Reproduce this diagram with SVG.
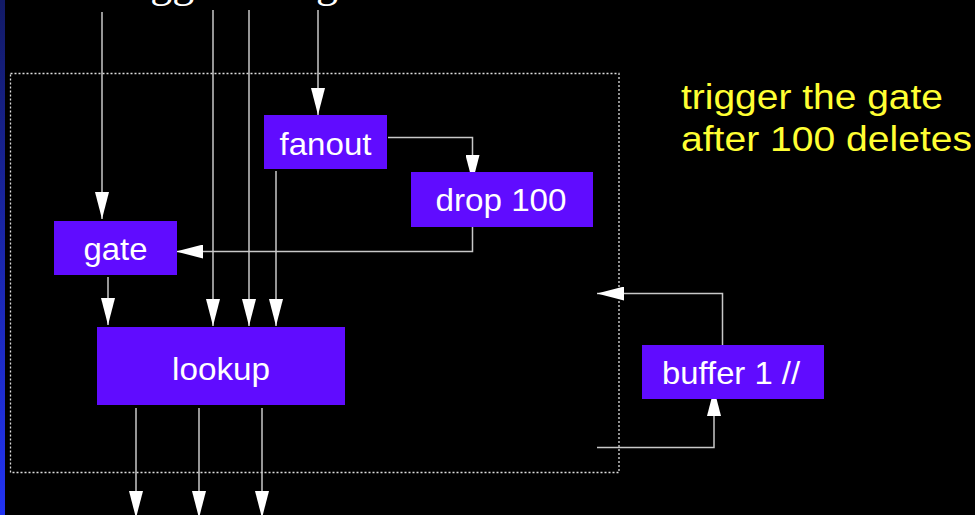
<svg xmlns="http://www.w3.org/2000/svg" width="975" height="515" viewBox="0 0 975 515">
<defs>
<linearGradient id="strip" x1="0" y1="0" x2="0" y2="1">
<stop offset="0" stop-color="#121a66"/>
<stop offset="1" stop-color="#2233f2"/>
</linearGradient>
<marker id="ah" markerUnits="userSpaceOnUse" markerWidth="28" markerHeight="14" refX="27" refY="7" orient="auto">
<path d="M0,0 L27,7 L0,14 z" fill="#ffffff"/>
</marker>
<style>
.node rect { fill: #600cff; }
.node text { fill: #ffffff; font-family: "Liberation Sans", Arial, sans-serif; font-size: 32px; text-anchor: middle; }
.conn path { fill: none; stroke: #c8c8c8; stroke-width: 1.5; }
.conn .arr { marker-end: url(#ah); }
.note { fill: #ffff33; font-family: "Liberation Sans", Arial, sans-serif; font-size: 35px; }
</style>
</defs>
<rect x="0" y="0" width="975" height="515" fill="#000000"/>
<rect x="0" y="0" width="5" height="515" fill="url(#strip)"/>
<text x="98" y="-3" fill="#ffffff" font-family="'Liberation Serif', 'Times New Roman', serif" font-size="44">Trigger the <tspan x="316">gate</tspan></text>
<rect id="frame" x="10.5" y="73.5" width="608.5" height="399" fill="none" stroke="#dddddd" stroke-width="1.3" stroke-dasharray="2,2"/>
<g class="conn" id="connectors">
<path class="arr" d="M102,12 V219"/>
<path class="arr" d="M213,10 V326"/>
<path class="arr" d="M249,10 V326"/>
<path class="arr" d="M318,10 V115"/>
<path class="arr" d="M276,171 V326"/>
<path class="arr" d="M108,277 V325"/>
<path class="arr" d="M388,137.5 H472.5 V182"/>
<path class="arr" d="M472.5,222 V251.5 H176"/>
<path class="arr" d="M722.5,345 V293.5 H597"/>
<path class="arr" d="M597,447.5 H714 V389"/>
<path class="arr" d="M136,408 V518"/>
<path class="arr" d="M199,408 V518"/>
<path class="arr" d="M262,408 V518"/>
</g>
<g class="node" id="fanout">
<rect x="264" y="115" width="123" height="54"/>
<text x="325.5" y="155" textLength="92" lengthAdjust="spacingAndGlyphs">fanout</text>
</g>
<g class="node" id="drop100">
<rect x="411" y="172" width="182" height="55"/>
<text x="501" y="211" textLength="131" lengthAdjust="spacingAndGlyphs">drop 100</text>
</g>
<g class="node" id="gate">
<rect x="54" y="221" width="123" height="54"/>
<text x="115.5" y="260" textLength="64" lengthAdjust="spacingAndGlyphs">gate</text>
</g>
<g class="node" id="lookup">
<rect x="97" y="327" width="248" height="78"/>
<text x="221" y="380" textLength="98" lengthAdjust="spacingAndGlyphs">lookup</text>
</g>
<g class="node" id="buffer1">
<rect x="642" y="345" width="182" height="54"/>
<text x="731" y="384" textLength="138" lengthAdjust="spacingAndGlyphs">buffer 1 //</text>
</g>
<g id="note">
<text class="note" x="681" y="109" textLength="262" lengthAdjust="spacingAndGlyphs">trigger the gate</text>
<text class="note" x="681" y="151" textLength="291" lengthAdjust="spacingAndGlyphs">after 100 deletes</text>
</g>
</svg>
